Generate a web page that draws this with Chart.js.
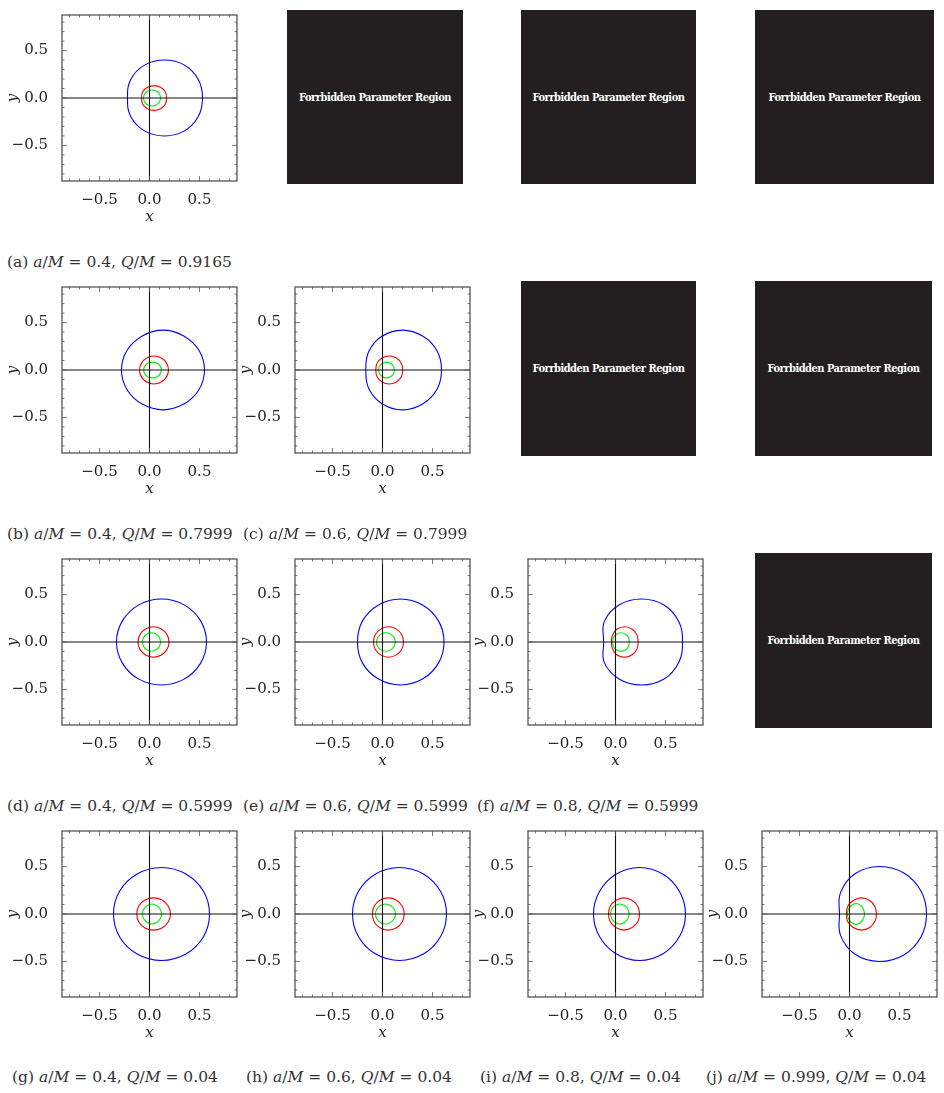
<!DOCTYPE html>
<html>
<head>
<meta charset="utf-8">
<script src="https://cdn.jsdelivr.net/npm/chart.js@4"></script>
<style>
  body { margin: 0; background: #fff; width: 944px; height: 1093px; position: relative; overflow: hidden; }
  canvas { position: absolute; }
  .cap { position: absolute; font-family: "DejaVu Serif", serif; font-size: 15.5px; color: #333; white-space: nowrap; }
  .cap i { font-style: italic; }
  .forbid { position: absolute; background: #231f20; color: #fff; display: flex; align-items: center; justify-content: center;
    font-family: "DejaVu Serif", serif; font-weight: bold; font-size: 11px; font-stretch: condensed; letter-spacing: -0.5px; }
</style>
</head>
<body>
<script>
const SERIF = "'DejaVu Serif', serif";

// grid positions (plot area left / top of each column / row)
const colLeft = [62, 295, 528, 762];
const rowTop = [6, 278, 550, 822];

// angles (deg) at which the radii were read, upper half, mirrored for lower half
const angles = [0, 30, 60, 90, 120, 150, 180];

// panel list: row, col, centre x and radii for blue / red / green curves
const panels = ["a", "b", "c", "d", "e", "f", "g", "h", "i", "j"];
const panelRow = [0, 1, 1, 2, 2, 2, 3, 3, 3, 3];
const panelCol = [0, 0, 1, 0, 1, 2, 0, 1, 2, 3];

const blueCx = [0.15, 0.135, 0.2, 0.12, 0.18, 0.26, 0.12, 0.17, 0.24, 0.3];
const blueR = [
  [0.38, 0.39, 0.40, 0.40, 0.40, 0.39, 0.37],
  [0.415, 0.415, 0.415, 0.42, 0.415, 0.415, 0.415],
  [0.39, 0.40, 0.41, 0.42, 0.41, 0.39, 0.367],
  [0.45, 0.45, 0.452, 0.453, 0.452, 0.45, 0.45],
  [0.435, 0.44, 0.448, 0.453, 0.448, 0.44, 0.43],
  [0.41, 0.43, 0.45, 0.453, 0.45, 0.43, 0.378],
  [0.48, 0.483, 0.487, 0.49, 0.487, 0.483, 0.48],
  [0.47, 0.475, 0.485, 0.49, 0.485, 0.475, 0.47],
  [0.46, 0.465, 0.48, 0.49, 0.48, 0.465, 0.46],
  [0.47, 0.48, 0.495, 0.50, 0.49, 0.45, 0.40]
];
const redCx = [0.045, 0.045, 0.067, 0.04, 0.06, 0.09, 0.04, 0.057, 0.085, 0.12];
const redR = [
  [0.125, 0.13, 0.13, 0.13, 0.13, 0.13, 0.125],
  [0.145, 0.145, 0.147, 0.147, 0.147, 0.145, 0.145],
  [0.135, 0.14, 0.145, 0.147, 0.145, 0.14, 0.134],
  [0.155, 0.156, 0.158, 0.16, 0.158, 0.156, 0.155],
  [0.15, 0.153, 0.157, 0.16, 0.157, 0.153, 0.15],
  [0.136, 0.145, 0.155, 0.16, 0.155, 0.14, 0.13],
  [0.17, 0.17, 0.17, 0.17, 0.17, 0.17, 0.167],
  [0.16, 0.163, 0.167, 0.17, 0.167, 0.163, 0.157],
  [0.155, 0.16, 0.165, 0.17, 0.165, 0.16, 0.155],
  [0.15, 0.155, 0.165, 0.17, 0.165, 0.16, 0.15]
];
const greenCx = [0.025, 0.03, 0.04, 0.02, 0.033, 0.055, 0.025, 0.03, 0.043, 0.065];
const greenR = [
  [0.085, 0.085, 0.085, 0.085, 0.085, 0.085, 0.085],
  [0.088, 0.087, 0.085, 0.083, 0.085, 0.087, 0.088],
  [0.078, 0.08, 0.082, 0.083, 0.082, 0.08, 0.08],
  [0.09, 0.092, 0.095, 0.097, 0.095, 0.092, 0.09],
  [0.094, 0.095, 0.096, 0.097, 0.096, 0.095, 0.093],
  [0.081, 0.088, 0.094, 0.097, 0.094, 0.088, 0.082],
  [0.095, 0.097, 0.1, 0.106, 0.1, 0.097, 0.095],
  [0.1, 0.1, 0.103, 0.106, 0.103, 0.1, 0.1],
  [0.093, 0.095, 0.1, 0.106, 0.1, 0.095, 0.093],
  [0.085, 0.088, 0.1, 0.11, 0.1, 0.09, 0.085]
];

const tickVals = [-0.5, 0, 0.5];

// forbidden boxes [left, top, width, height]
const forbidden = [[287, 10, 176, 174], [521, 10, 175, 174], [755, 10, 179, 174],
  [521, 281, 175, 175], [755, 281, 177, 175], [755, 553, 177, 175]];

// captions: [left, top, label, a, Q]
const captions = [
  [7, 253, "a", "0.4", "0.9165"],
  [7, 525, "b", "0.4", "0.7999"], [243, 525, "c", "0.6", "0.7999"],
  [7, 797, "d", "0.4", "0.5999"], [243, 797, "e", "0.6", "0.5999"], [477, 797, "f", "0.8", "0.5999"],
  [12, 1068, "g", "0.4", "0.04"], [246, 1068, "h", "0.6", "0.04"], [480, 1068, "i", "0.8", "0.04"], [706, 1068, "j", "0.999", "0.04"]
];

function closedCurve(cx, radii) {
  // polar readings -> points round the full loop (closed by the loop plugin)
  const pts = [];
  angles.forEach((a, i) => {
    const t = a * Math.PI / 180;
    pts.push({ x: cx + radii[i] * Math.cos(t), y: radii[i] * Math.sin(t) });
  });
  for (let i = angles.length - 2; i > 0; i--) {
    const t = angles[i] * Math.PI / 180;
    pts.push({ x: cx + radii[i] * Math.cos(t), y: -radii[i] * Math.sin(t) });
  }
  return pts;
}

// make the curve datasets closed loops (like radar lines)
const loopPlugin = {
  id: "loop",
  afterDatasetsUpdate(chart) {
    chart.data.datasets.forEach((ds, i) => {
      if (!ds.closed) return;
      const line = chart.getDatasetMeta(i).dataset;
      line._loop = true;
      line._fullLoop = true;
      line._pointsUpdated = false;
      line._segments = undefined;
    });
  }
};

// frame with inward ticks, mathematica style
const framePlugin = {
  id: "frame",
  afterDraw(chart) {
    const { ctx, chartArea: ca, scales } = chart;
    ctx.save();
    ctx.strokeStyle = "#555";
    ctx.lineWidth = 1.3;
    ctx.strokeRect(ca.left, ca.top, ca.right - ca.left, ca.bottom - ca.top);
    ctx.lineWidth = 0.8;
    ctx.beginPath();
    for (let k = -8; k <= 8; k++) {
      const v = k / 10;
      const len = (k % 5 === 0) ? 5 : 2.5;
      const px = scales.x.getPixelForValue(v);
      const py = scales.y.getPixelForValue(v);
      ctx.moveTo(px, ca.bottom); ctx.lineTo(px, ca.bottom - len);
      ctx.moveTo(px, ca.top); ctx.lineTo(px, ca.top + len);
      ctx.moveTo(ca.left, py); ctx.lineTo(ca.left + len, py);
      ctx.moveTo(ca.right, py); ctx.lineTo(ca.right - len, py);
    }
    ctx.stroke();
    ctx.restore();
  }
};

const fmt = (v) => (v < 0 ? "\u2212" : "") + Math.abs(v).toFixed(1);

panels.forEach((p, i) => {
  const cv = document.createElement("canvas");
  cv.width = 240; cv.height = 230;
  cv.style.left = (colLeft[panelCol[i]] - 62) + "px";
  cv.style.top = (rowTop[panelRow[i]] - 6) + "px";
  document.body.appendChild(cv);

  const line = (data, color) => ({
    data: data, closed: true, showLine: true, spanGaps: true, borderColor: color, borderWidth: 1.1, pointRadius: 0, tension: 0.4, fill: false
  });

  new Chart(cv, {
    type: "scatter",
    data: {
      datasets: [
        { data: [{ x: -0.875, y: 0 }, { x: 0.875, y: 0 }], showLine: true, borderColor: "#111", borderWidth: 1.1, pointRadius: 0 },
        { data: [{ x: 0, y: -0.875 }, { x: 0, y: 0.875 }], showLine: true, borderColor: "#111", borderWidth: 1.1, pointRadius: 0 },
        line(closedCurve(blueCx[i], blueR[i]), "#0000ff"),
        line(closedCurve(redCx[i], redR[i]), "#ff0000"),
        line(closedCurve(greenCx[i], greenR[i]), "#00ee00")
      ]
    },
    options: {
      responsive: false,
      animation: false,
      layout: { padding: { top: 6, right: 3 } },
      plugins: { legend: { display: false }, tooltip: { enabled: false } },
      scales: {
        x: {
          type: "linear", min: -0.875, max: 0.875,
          afterBuildTicks: (s) => { s.ticks = tickVals.map((v) => ({ value: v })); },
          afterFit: (s) => { s.height = 49; },
          grid: { display: false }, border: { display: false },
          ticks: { callback: fmt, color: "#222", padding: 2, maxRotation: 0, font: { family: SERIF, size: 15 } },
          title: { display: true, text: "x", color: "#222", padding: { top: 1 }, font: { family: SERIF, size: 15, style: "italic" } }
        },
        y: {
          type: "linear", min: -0.875, max: 0.875,
          afterBuildTicks: (s) => { s.ticks = tickVals.map((v) => ({ value: v })); },
          afterFit: (s) => { s.width = 62; },
          grid: { display: false }, border: { display: false },
          ticks: { callback: fmt, color: "#222", padding: 6, font: { family: SERIF, size: 15 } },
          title: { display: true, text: "y", color: "#222", padding: { bottom: 0 }, font: { family: SERIF, size: 15, style: "italic" } }
        }
      }
    },
    plugins: [loopPlugin, framePlugin]
  });
});

forbidden.forEach((b) => {
  const d = document.createElement("div");
  d.className = "forbid";
  d.style.left = b[0] + "px"; d.style.top = b[1] + "px";
  d.style.width = b[2] + "px"; d.style.height = b[3] + "px";
  d.textContent = "Forrbidden Parameter Region";
  document.body.appendChild(d);
});

captions.forEach((c) => {
  const d = document.createElement("div");
  d.className = "cap";
  d.style.left = c[0] + "px"; d.style.top = c[1] + "px";
  d.innerHTML = "(" + c[2] + ") <i>a</i>/<i>M</i> = " + c[3] + ", <i>Q</i>/<i>M</i> = " + c[4];
  document.body.appendChild(d);
});
</script>
</body>
</html>
